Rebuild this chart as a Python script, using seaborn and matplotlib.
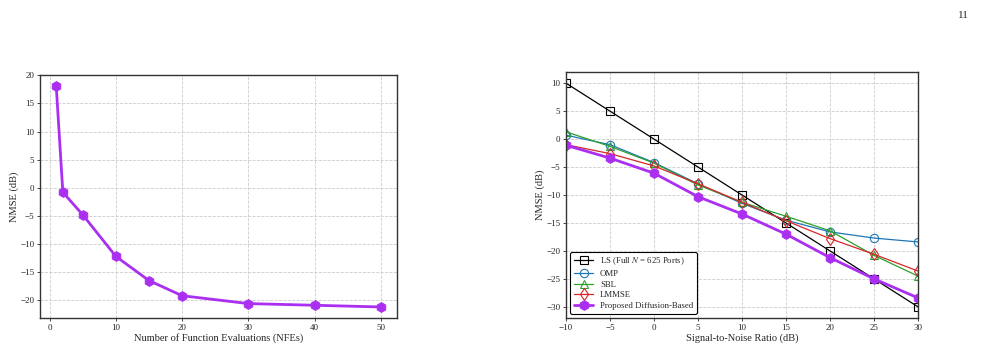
import numpy as np
import pandas as pd
import seaborn as sns
from matplotlib import pyplot as plt

# data
nfe = [1, 2, 5, 10, 15, 20, 30, 40, 50]
nfe_nmse = [18.1, -0.8, -4.8, -12.2, -16.5, -19.2, -20.6, -20.9, -21.2]

snr = [-10, -5, 0, 5, 10, 15, 20, 25, 30]
ls_nmse = [10, 5, 0, -5, -10, -15, -20, -25, -30]
omp_nmse = [0.7, -1.0, -4.2, -8.0, -11.5, -14.5, -16.6, -17.7, -18.4]
sbl_nmse = [1.3, -1.3, -4.3, -8.2, -11.3, -13.8, -16.4, -20.8, -24.5]
lmmse_nmse = [-1.0, -2.6, -4.8, -8.0, -11.3, -14.6, -17.8, -20.6, -23.6]
prop_nmse = [-1.1, -3.4, -6.1, -10.3, -13.4, -17.0, -21.2, -25.0, -28.4]

labels = ["LS (Full $N$ = 625 Ports)", "OMP", "SBL", "LMMSE", "Proposed Diffusion-Based"]

sns.set_style("ticks")
plt.rcParams['font.family'] = ['Liberation Serif', 'DejaVu Serif']
plt.rcParams['mathtext.fontset'] = 'stix'
plt.rcParams['font.size'] = 6.5

purple = '#ab2ff0'

fig = plt.figure(figsize=(9.84, 3.52), dpi=100)
ax1 = fig.add_axes([40 / 984, 1 - 318 / 352, 357 / 984, 243 / 352])
ax2 = fig.add_axes([566 / 984, 1 - 318 / 352, 352 / 984, 246 / 352])

# left: NMSE vs NFEs
df1 = pd.DataFrame({'nfe': nfe, 'nmse': nfe_nmse})
sns.lineplot(data=df1, x='nfe', y='nmse', ax=ax1, color=purple, lw=2,
             marker='h', markersize=7, markeredgecolor=purple)
ax1.set_xlabel('Number of Function Evaluations (NFEs)', fontsize=7.5, labelpad=1)
ax1.set_ylabel('NMSE (dB)', fontsize=7.5, labelpad=1)
ax1.set_yticks([-20, -15, -10, -5, 0, 5, 10, 15, 20])

# right: NMSE vs SNR
series = [ls_nmse, omp_nmse, sbl_nmse, lmmse_nmse, prop_nmse]
colors = ['black', '#1f77b4', '#2ca02c', '#d62728', purple]
markers = ['s', 'o', '^', 'd', 'o']
for lab, y, c, m in zip(labels, series, colors, markers):
    d = pd.DataFrame({'snr': snr, 'nmse': y})
    if lab.startswith('Proposed'):
        sns.lineplot(data=d, x='snr', y='nmse', ax=ax2, color=c, lw=2, marker='h',
                     markersize=7, markeredgecolor=c, label=lab)
    else:
        sns.lineplot(data=d, x='snr', y='nmse', ax=ax2, color=c, lw=0.9, marker=m,
                     markersize=6, markerfacecolor='none', markeredgecolor=c,
                     markeredgewidth=0.8, label=lab)
ax2.set_xlim(-10, 30)
ax2.set_xlabel('Signal-to-Noise Ratio (dB)', fontsize=7.5, labelpad=1)
ax2.set_ylabel('NMSE (dB)', fontsize=7.5, labelpad=1)
leg = ax2.legend(loc='lower left', fontsize=6.3, frameon=True, fancybox=True,
                 edgecolor='black', framealpha=1, handlelength=2.2,
                 borderpad=0.4, labelspacing=0.3)
leg.get_frame().set_linewidth(0.8)

for ax in (ax1, ax2):
    ax.grid(True, linestyle='--', color='#cccccc', linewidth=0.6)
    ax.tick_params(labelsize=6.5, length=2.5, width=0.6, pad=1.5)
    for s in ax.spines.values():
        s.set_visible(True)
        s.set_color('#333333')
        s.set_linewidth(1.0)

fig.text(0.985, 0.97, '11', fontsize=8, ha='right', va='top')

fig.savefig('out.png', dpi=100)
